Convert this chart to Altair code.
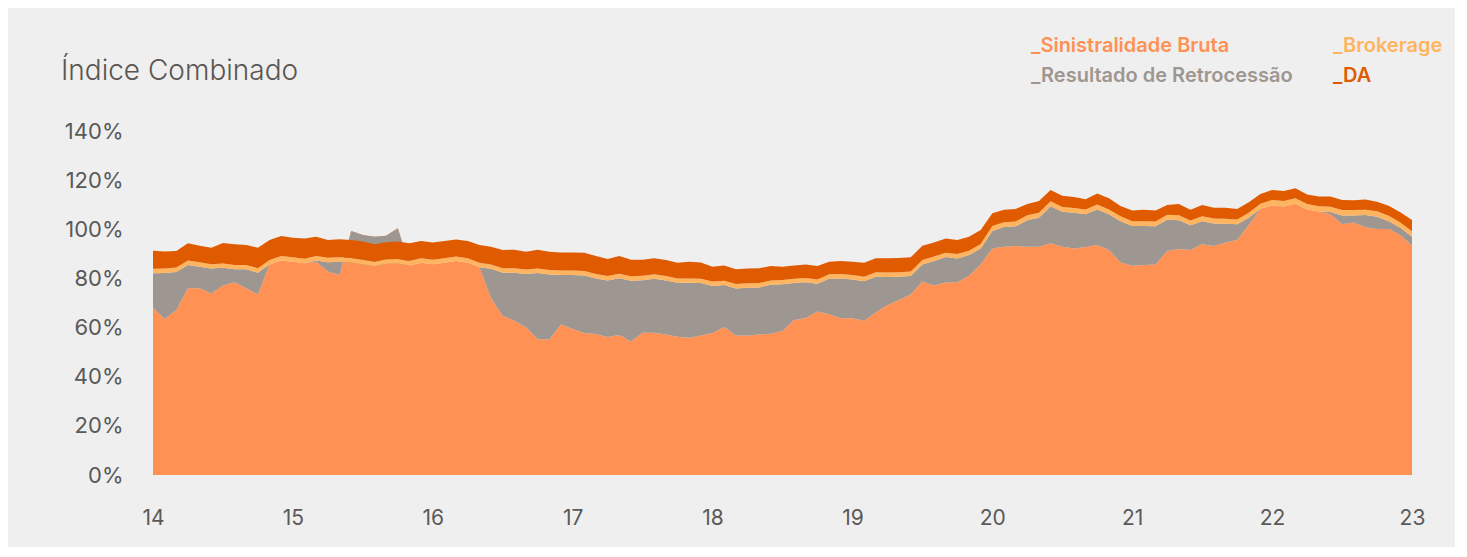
import altair as alt
import pandas as pd

# Monthly values, Jan 2014 .. Jan 2023 (109 points), in %
sinistralidade = [
    68.1, 63.5, 67.2, 76.0, 76.0, 73.9, 77.1, 78.4, 76.0, 73.5,
    85.7, 87.3, 86.8, 86.2, 86.8, 82.8, 81.4, 99.3, 97.7, 97.0,
    97.4, 100.4, 85.3, 86.4, 85.8, 86.4, 87.1, 86.4, 84.6, 71.9,
    64.8, 62.8, 60.1, 55.2, 55.1, 61.3, 59.4, 57.8, 57.4, 56.2,
    57.0, 54.3, 57.9, 57.9, 57.2, 56.3, 55.9, 56.8, 57.8, 60.2,
    56.8, 56.8, 57.2, 57.5, 58.7, 63.1, 63.9, 66.5, 65.4, 63.8,
    63.8, 62.8, 66.1, 69.2, 71.2, 73.5, 78.7, 77.1, 78.3, 78.4,
    81.1, 85.7, 92.2, 92.9, 93.2, 92.9, 92.9, 94.3, 92.9, 92.2,
    92.8, 93.6, 91.6, 86.6, 85.2, 85.5, 85.7, 91.2, 92.0, 91.6,
    93.9, 93.2, 94.6, 95.6, 101.7, 108.4, 109.7, 109.3, 110.4, 108.1,
    107.2, 106.1, 102.0, 102.8, 100.8, 100.1, 100.1, 97.7, 93.3,
]
retrocessao = [
    14.0, 18.7, 15.4, 9.5, 8.8, 10.1, 7.2, 5.3, 7.7, 8.8,
    0.0, 0.0, 0.0, 0.0, 0.5, 3.8, 5.4, -12.8, -11.9, -12.0,
    -11.4, -14.3, 0.0, 0.0, 0.0, 0.0, 0.0, 0.0, 0.0, 12.0,
    17.5, 19.5, 21.7, 27.0, 26.5, 20.1, 22.0, 23.4, 22.6, 23.0,
    23.1, 24.8, 21.4, 22.0, 22.0, 21.9, 22.3, 21.3, 19.1, 17.1,
    19.1, 19.4, 19.1, 19.9, 18.9, 15.0, 14.5, 11.3, 14.5, 16.2,
    15.8, 16.1, 14.6, 11.4, 9.5, 7.5, 7.0, 10.0, 10.4, 9.7,
    8.4, 6.5, 7.1, 8.0, 8.0, 10.8, 11.8, 15.1, 14.2, 14.5,
    13.3, 14.5, 14.5, 16.7, 16.1, 15.8, 15.5, 12.7, 11.7, 10.0,
    9.4, 9.2, 7.7, 6.4, 3.0, 0.0, 0.0, 0.0, 0.0, 0.0,
    0.0, 0.9, 3.6, 2.8, 5.0, 5.0, 3.2, 2.9, 3.7,
]
brokerage = [1.8] * 72 + [2.0] * 24 + [2.2] * 13
da = [
    7.4, 7.0, 6.8, 7.0, 6.7, 6.7, 8.3, 8.4, 8.1, 8.4,
    8.1, 8.2, 8.0, 8.3, 7.9, 7.2, 7.3, 7.3, 7.4, 7.1,
    6.9, 7.1, 7.2, 7.0, 7.0, 7.0, 6.9, 7.0, 7.2, 7.2,
    7.5, 7.6, 7.3, 7.7, 7.5, 7.4, 7.4, 7.5, 7.3, 6.9,
    7.2, 6.7, 6.5, 6.5, 6.5, 6.4, 6.8, 6.6, 6.1, 6.2,
    6.0, 6.0, 6.0, 5.9, 5.4, 5.4, 5.5, 5.5, 5.1, 5.3,
    5.4, 5.7, 5.7, 5.8, 5.8, 5.8, 5.8, 5.7, 5.8, 5.7,
    5.7, 5.7, 5.2, 5.0, 5.1, 4.6, 4.8, 4.6, 4.5, 4.4,
    4.1, 4.5, 4.5, 4.2, 4.3, 4.6, 4.4, 4.0, 4.6, 4.3,
    4.6, 4.4, 4.5, 4.3, 4.3, 4.0, 4.1, 4.1, 4.1, 3.9,
    3.9, 4.1, 4.1, 4.0, 4.1, 3.9, 4.1, 4.1, 4.6,
]
year_ticks = [14, 15, 16, 17, 18, 19, 20, 21, 22, 23]
y_ticks = [0, 20, 40, 60, 80, 100, 120, 140]

series_names = ["_Sinistralidade Bruta", "_Resultado de Retrocessão", "_Brokerage", "_DA"]
series_colors = ["#FF9155", "#9E9690", "#FFB45F", "#E05B00"]

n = len(sinistralidade)
df = pd.DataFrame({
    "ano": [14 + i / 12 for i in range(n)],
    "s": sinistralidade,
    "r": retrocessao,
    "b": brokerage,
    "d": da,
})
df["c0"] = 0.0
df["c1"] = df["s"]
df["c2"] = df["c1"] + df["r"]
df["c3"] = df["c2"] + df["b"]
df["c4"] = df["c3"] + df["d"]

FONT = "Inter"
W, H = 1259, 344

x_enc = alt.X("ano:Q", scale=alt.Scale(domain=[14, 23], nice=False),
              axis=alt.Axis(values=year_ticks, format="d", title=None,
                            labelPadding=32, labelFontSize=21, labelFlush=False))
y_axis = alt.Axis(values=y_ticks, title=None, labelExpr="datum.value + '%'",
                  labelPadding=30, labelFontSize=22)
base = alt.Chart(df)
layers = []
pairs = [("c0", "c1"), ("c1", "c2"), ("c2", "c3"), ("c3", "c4")]
for k, (lo, hi) in enumerate(pairs):
    enc = dict(
        x=x_enc,
        y=alt.Y(f"{hi}:Q", scale=alt.Scale(domain=[0, 140], nice=False, zero=True),
                axis=y_axis),
        y2=alt.Y2(f"{lo}:Q"),
    )
    layers.append(base.mark_area(color=series_colors[k], interpolate="linear",
                                 strokeWidth=0, opacity=1).encode(**enc))

txt = pd.DataFrame({"t": [0]})
title = alt.Chart(txt).mark_text(text="Índice Combinado", font=FONT, fontSize=28,
                                 fontWeight=300, color="#5A5652", align="left",
                                 baseline="alphabetic").encode(
    x=alt.value(-92), y=alt.value(-51))
legend_pos = [(878, -79), (878, -49), (1180, -79), (1180, -49)]
legend_marks = []
for (lx, ly), name, col in zip(legend_pos, series_names, series_colors):
    legend_marks.append(
        alt.Chart(txt).mark_text(text=name, font=FONT, fontSize=20, fontWeight=600,
                                 color=col, align="left", baseline="alphabetic").encode(
            x=alt.value(lx), y=alt.value(ly)))

chart = alt.layer(*layers, title, *legend_marks).properties(
    width=W, height=H, background="#EFEFEF",
    padding={"left": 145, "top": 123, "right": 43, "bottom": 72},
    autosize=alt.AutoSizeParams(type="none"),
).configure_view(stroke=None).configure_axis(
    domain=False, ticks=False, grid=False, labelColor="#595959", labelFont=FONT,
)

chart.save("out.html", embed_options={"renderer": "svg", "actions": False})
